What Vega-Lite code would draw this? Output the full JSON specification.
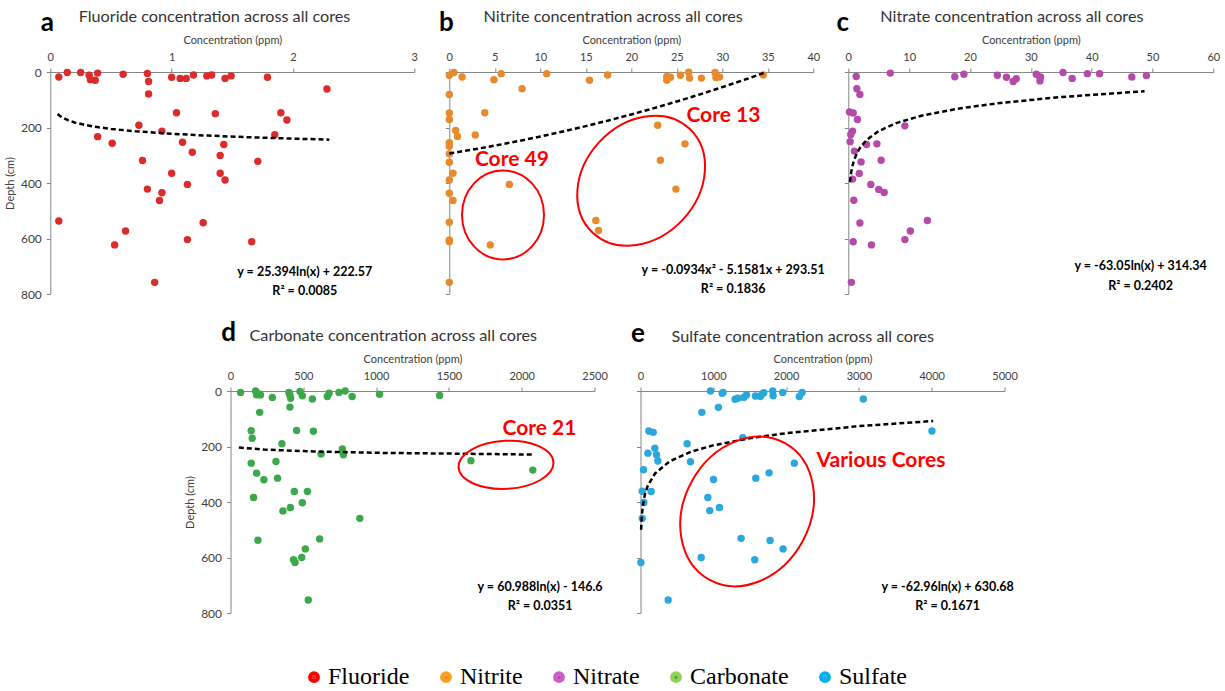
{
  "$schema": "https://vega.github.io/schema/vega-lite/v6.json",
  "background": "white",
  "padding": {"left": 4, "top": 9, "right": 5, "bottom": 5},
  "config": {
    "view": {"stroke": null},
    "axis": {
      "grid": false,
      "labelFont": "Lato",
      "titleFont": "Lato",
      "labelColor": "#404040",
      "titleColor": "#404040",
      "labelFontSize": 11,
      "titleFontSize": 11,
      "titleFontWeight": "normal",
      "domainColor": "#868686",
      "tickColor": "#868686",
      "tickSize": 4,
      "labelFlush": false
    },
    "legend": {
      "orient": "none",
      "legendX": 252,
      "legendY": 593,
      "direction": "horizontal",
      "columns": 5,
      "symbolType": "circle",
      "symbolSize": 16,
      "symbolStrokeWidth": 7.8,
      "labelFont": "Liberation Serif",
      "labelFontSize": 24,
      "labelColor": "#000000",
      "labelOffset": 2,
      "columnPadding": 18,
      "labelLimit": 300
    },
    "text": {"font": "Lato"}
  },
  "datasets": {
    "points": [
      {"ion":"Fluoride","conc":0.07,"depth":18},{"ion":"Fluoride","conc":0.14,"depth":2},{"ion":"Fluoride","conc":0.25,"depth":2},
      {"ion":"Fluoride","conc":0.32,"depth":12},{"ion":"Fluoride","conc":0.33,"depth":28},{"ion":"Fluoride","conc":0.37,"depth":30},
      {"ion":"Fluoride","conc":0.39,"depth":4},{"ion":"Fluoride","conc":0.6,"depth":8},{"ion":"Fluoride","conc":0.8,"depth":5},
      {"ion":"Fluoride","conc":0.81,"depth":34},{"ion":"Fluoride","conc":0.81,"depth":79},{"ion":"Fluoride","conc":1.0,"depth":19},
      {"ion":"Fluoride","conc":1.07,"depth":23},{"ion":"Fluoride","conc":1.12,"depth":23},{"ion":"Fluoride","conc":1.18,"depth":11},
      {"ion":"Fluoride","conc":1.29,"depth":14},{"ion":"Fluoride","conc":1.33,"depth":11},{"ion":"Fluoride","conc":1.44,"depth":23},
      {"ion":"Fluoride","conc":1.49,"depth":14},{"ion":"Fluoride","conc":1.79,"depth":19},{"ion":"Fluoride","conc":2.28,"depth":61},
      {"ion":"Fluoride","conc":1.04,"depth":147},{"ion":"Fluoride","conc":1.36,"depth":150},{"ion":"Fluoride","conc":1.9,"depth":147},
      {"ion":"Fluoride","conc":1.95,"depth":173},{"ion":"Fluoride","conc":0.73,"depth":192},{"ion":"Fluoride","conc":0.92,"depth":213},
      {"ion":"Fluoride","conc":1.85,"depth":226},{"ion":"Fluoride","conc":0.39,"depth":233},{"ion":"Fluoride","conc":0.51,"depth":257},
      {"ion":"Fluoride","conc":1.09,"depth":253},{"ion":"Fluoride","conc":1.43,"depth":261},{"ion":"Fluoride","conc":1.17,"depth":289},
      {"ion":"Fluoride","conc":1.4,"depth":301},{"ion":"Fluoride","conc":0.76,"depth":319},{"ion":"Fluoride","conc":1.71,"depth":322},
      {"ion":"Fluoride","conc":1.0,"depth":365},{"ion":"Fluoride","conc":1.4,"depth":365},{"ion":"Fluoride","conc":1.44,"depth":389},
      {"ion":"Fluoride","conc":1.13,"depth":405},{"ion":"Fluoride","conc":0.8,"depth":422},{"ion":"Fluoride","conc":0.92,"depth":435},
      {"ion":"Fluoride","conc":0.9,"depth":463},{"ion":"Fluoride","conc":0.07,"depth":537},{"ion":"Fluoride","conc":0.62,"depth":573},
      {"ion":"Fluoride","conc":1.26,"depth":543},{"ion":"Fluoride","conc":0.53,"depth":623},{"ion":"Fluoride","conc":1.13,"depth":604},
      {"ion":"Fluoride","conc":1.66,"depth":612},{"ion":"Fluoride","conc":0.86,"depth":758},

      {"ion":"Nitrite","conc":0,"depth":12},{"ion":"Nitrite","conc":0.5,"depth":2},{"ion":"Nitrite","conc":1.4,"depth":18},
      {"ion":"Nitrite","conc":4.9,"depth":28},{"ion":"Nitrite","conc":5.7,"depth":6},{"ion":"Nitrite","conc":8.0,"depth":60},
      {"ion":"Nitrite","conc":10.7,"depth":6},{"ion":"Nitrite","conc":15.4,"depth":30},{"ion":"Nitrite","conc":17.4,"depth":11},
      {"ion":"Nitrite","conc":23.9,"depth":16},{"ion":"Nitrite","conc":23.9,"depth":30},{"ion":"Nitrite","conc":24.3,"depth":19},
      {"ion":"Nitrite","conc":25.4,"depth":12},{"ion":"Nitrite","conc":26.3,"depth":1},{"ion":"Nitrite","conc":26.4,"depth":22},
      {"ion":"Nitrite","conc":27.7,"depth":22},{"ion":"Nitrite","conc":29.2,"depth":2},{"ion":"Nitrite","conc":29.3,"depth":20},
      {"ion":"Nitrite","conc":29.7,"depth":18},{"ion":"Nitrite","conc":34.5,"depth":11},{"ion":"Nitrite","conc":0,"depth":81},
      {"ion":"Nitrite","conc":0,"depth":148},{"ion":"Nitrite","conc":0,"depth":171},{"ion":"Nitrite","conc":0.7,"depth":211},
      {"ion":"Nitrite","conc":0.9,"depth":232},{"ion":"Nitrite","conc":3.9,"depth":147},{"ion":"Nitrite","conc":2.85,"depth":227},
      {"ion":"Nitrite","conc":0,"depth":255},{"ion":"Nitrite","conc":0,"depth":268},{"ion":"Nitrite","conc":0,"depth":295},
      {"ion":"Nitrite","conc":0,"depth":325},{"ion":"Nitrite","conc":0.4,"depth":365},{"ion":"Nitrite","conc":0,"depth":389},
      {"ion":"Nitrite","conc":0,"depth":437},{"ion":"Nitrite","conc":0.4,"depth":463},{"ion":"Nitrite","conc":0,"depth":541},
      {"ion":"Nitrite","conc":0,"depth":605},{"ion":"Nitrite","conc":0,"depth":612},{"ion":"Nitrite","conc":0,"depth":758},
      {"ion":"Nitrite","conc":6.6,"depth":405},{"ion":"Nitrite","conc":4.5,"depth":623},{"ion":"Nitrite","conc":22.9,"depth":192},
      {"ion":"Nitrite","conc":25.9,"depth":259},{"ion":"Nitrite","conc":23.2,"depth":318},{"ion":"Nitrite","conc":24.9,"depth":422},
      {"ion":"Nitrite","conc":16.1,"depth":535},{"ion":"Nitrite","conc":16.4,"depth":571},

      {"ion":"Nitrate","conc":1.3,"depth":16},{"ion":"Nitrate","conc":6.9,"depth":4},{"ion":"Nitrate","conc":17.5,"depth":17},
      {"ion":"Nitrate","conc":19.0,"depth":8},{"ion":"Nitrate","conc":24.5,"depth":12},{"ion":"Nitrate","conc":26.0,"depth":19},
      {"ion":"Nitrate","conc":27.1,"depth":34},{"ion":"Nitrate","conc":27.6,"depth":24},{"ion":"Nitrate","conc":30.9,"depth":8},
      {"ion":"Nitrate","conc":31.5,"depth":20},{"ion":"Nitrate","conc":31.5,"depth":32},{"ion":"Nitrate","conc":31.6,"depth":18},
      {"ion":"Nitrate","conc":35.3,"depth":2},{"ion":"Nitrate","conc":36.8,"depth":23},{"ion":"Nitrate","conc":39.3,"depth":6},
      {"ion":"Nitrate","conc":41.3,"depth":6},{"ion":"Nitrate","conc":46.6,"depth":18},{"ion":"Nitrate","conc":49.0,"depth":13},
      {"ion":"Nitrate","conc":1.4,"depth":60},{"ion":"Nitrate","conc":1.9,"depth":81},{"ion":"Nitrate","conc":0.2,"depth":144},
      {"ion":"Nitrate","conc":0.8,"depth":148},{"ion":"Nitrate","conc":1.5,"depth":171},{"ion":"Nitrate","conc":0.7,"depth":213},
      {"ion":"Nitrate","conc":0.4,"depth":225},{"ion":"Nitrate","conc":0.3,"depth":251},{"ion":"Nitrate","conc":9.3,"depth":194},
      {"ion":"Nitrate","conc":3.0,"depth":261},{"ion":"Nitrate","conc":4.7,"depth":259},{"ion":"Nitrate","conc":1.0,"depth":285},
      {"ion":"Nitrate","conc":2.1,"depth":324},{"ion":"Nitrate","conc":5.4,"depth":318},{"ion":"Nitrate","conc":1.8,"depth":366},
      {"ion":"Nitrate","conc":0.7,"depth":386},{"ion":"Nitrate","conc":3.7,"depth":405},{"ion":"Nitrate","conc":5.0,"depth":423},
      {"ion":"Nitrate","conc":5.9,"depth":434},{"ion":"Nitrate","conc":0.9,"depth":462},{"ion":"Nitrate","conc":1.9,"depth":544},
      {"ion":"Nitrate","conc":13.0,"depth":535},{"ion":"Nitrate","conc":10.2,"depth":573},{"ion":"Nitrate","conc":9.3,"depth":604},
      {"ion":"Nitrate","conc":0.8,"depth":612},{"ion":"Nitrate","conc":3.8,"depth":623},{"ion":"Nitrate","conc":0.5,"depth":758},

      {"ion":"Carbonate","conc":69,"depth":5},{"ion":"Carbonate","conc":172,"depth":0},{"ion":"Carbonate","conc":179,"depth":14},
      {"ion":"Carbonate","conc":195,"depth":11},{"ion":"Carbonate","conc":206,"depth":14},{"ion":"Carbonate","conc":287,"depth":23},
      {"ion":"Carbonate","conc":401,"depth":5},{"ion":"Carbonate","conc":408,"depth":14},{"ion":"Carbonate","conc":413,"depth":26},
      {"ion":"Carbonate","conc":477,"depth":2},{"ion":"Carbonate","conc":493,"depth":17},{"ion":"Carbonate","conc":562,"depth":29},
      {"ion":"Carbonate","conc":665,"depth":20},{"ion":"Carbonate","conc":677,"depth":8},{"ion":"Carbonate","conc":745,"depth":5},
      {"ion":"Carbonate","conc":787,"depth":0},{"ion":"Carbonate","conc":835,"depth":20},{"ion":"Carbonate","conc":1023,"depth":12},
      {"ion":"Carbonate","conc":1436,"depth":16},{"ion":"Carbonate","conc":408,"depth":58},{"ion":"Carbonate","conc":200,"depth":77},
      {"ion":"Carbonate","conc":142,"depth":143},{"ion":"Carbonate","conc":149,"depth":170},{"ion":"Carbonate","conc":454,"depth":142},
      {"ion":"Carbonate","conc":569,"depth":145},{"ion":"Carbonate","conc":353,"depth":190},{"ion":"Carbonate","conc":768,"depth":209},
      {"ion":"Carbonate","conc":772,"depth":220},{"ion":"Carbonate","conc":775,"depth":230},{"ion":"Carbonate","conc":622,"depth":227},
      {"ion":"Carbonate","conc":142,"depth":260},{"ion":"Carbonate","conc":312,"depth":254},{"ion":"Carbonate","conc":179,"depth":296},
      {"ion":"Carbonate","conc":229,"depth":320},{"ion":"Carbonate","conc":323,"depth":314},{"ion":"Carbonate","conc":158,"depth":384},
      {"ion":"Carbonate","conc":438,"depth":362},{"ion":"Carbonate","conc":528,"depth":362},{"ion":"Carbonate","conc":493,"depth":403},
      {"ion":"Carbonate","conc":411,"depth":420},{"ion":"Carbonate","conc":360,"depth":432},{"ion":"Carbonate","conc":888,"depth":459},
      {"ion":"Carbonate","conc":188,"depth":538},{"ion":"Carbonate","conc":612,"depth":533},{"ion":"Carbonate","conc":514,"depth":569},
      {"ion":"Carbonate","conc":433,"depth":608},{"ion":"Carbonate","conc":443,"depth":618},{"ion":"Carbonate","conc":489,"depth":600},
      {"ion":"Carbonate","conc":534,"depth":753},{"ion":"Carbonate","conc":1651,"depth":251},{"ion":"Carbonate","conc":2076,"depth":285},

      {"ion":"Sulfate","conc":961,"depth":0},{"ion":"Sulfate","conc":1121,"depth":8},{"ion":"Sulfate","conc":1134,"depth":5},
      {"ion":"Sulfate","conc":1299,"depth":30},{"ion":"Sulfate","conc":1336,"depth":26},{"ion":"Sulfate","conc":1418,"depth":23},
      {"ion":"Sulfate","conc":1455,"depth":14},{"ion":"Sulfate","conc":1578,"depth":18},{"ion":"Sulfate","conc":1647,"depth":20},
      {"ion":"Sulfate","conc":1670,"depth":11},{"ion":"Sulfate","conc":1693,"depth":6},{"ion":"Sulfate","conc":1816,"depth":0},
      {"ion":"Sulfate","conc":1821,"depth":17},{"ion":"Sulfate","conc":1953,"depth":5},{"ion":"Sulfate","conc":2182,"depth":20},
      {"ion":"Sulfate","conc":2219,"depth":5},{"ion":"Sulfate","conc":3060,"depth":29},{"ion":"Sulfate","conc":842,"depth":77},
      {"ion":"Sulfate","conc":1070,"depth":59},{"ion":"Sulfate","conc":4003,"depth":144},{"ion":"Sulfate","conc":114,"depth":144},
      {"ion":"Sulfate","conc":174,"depth":149},{"ion":"Sulfate","conc":1404,"depth":168},{"ion":"Sulfate","conc":197,"depth":206},
      {"ion":"Sulfate","conc":220,"depth":230},{"ion":"Sulfate","conc":238,"depth":252},{"ion":"Sulfate","conc":101,"depth":224},
      {"ion":"Sulfate","conc":640,"depth":190},{"ion":"Sulfate","conc":686,"depth":255},{"ion":"Sulfate","conc":41,"depth":284},
      {"ion":"Sulfate","conc":2113,"depth":260},{"ion":"Sulfate","conc":1766,"depth":295},{"ion":"Sulfate","conc":1583,"depth":314},
      {"ion":"Sulfate","conc":1002,"depth":319},{"ion":"Sulfate","conc":23,"depth":361},{"ion":"Sulfate","conc":146,"depth":362},
      {"ion":"Sulfate","conc":46,"depth":402},{"ion":"Sulfate","conc":924,"depth":384},{"ion":"Sulfate","conc":951,"depth":431},
      {"ion":"Sulfate","conc":1084,"depth":420},{"ion":"Sulfate","conc":23,"depth":459},{"ion":"Sulfate","conc":1381,"depth":531},
      {"ion":"Sulfate","conc":1780,"depth":539},{"ion":"Sulfate","conc":1958,"depth":569},{"ion":"Sulfate","conc":833,"depth":600},
      {"ion":"Sulfate","conc":1569,"depth":608},{"ion":"Sulfate","conc":5,"depth":618},{"ion":"Sulfate","conc":380,"depth":753}
    ],
    "trends": [
      {"ion":"Fluoride","conc":0.06,"depth":151.1},{"ion":"Fluoride","conc":0.08,"depth":158.4},{"ion":"Fluoride","conc":0.1,"depth":164.1},
      {"ion":"Fluoride","conc":0.15,"depth":174.4},{"ion":"Fluoride","conc":0.2,"depth":181.7},{"ion":"Fluoride","conc":0.3,"depth":192.0},
      {"ion":"Fluoride","conc":0.4,"depth":199.3},{"ion":"Fluoride","conc":0.5,"depth":205.0},{"ion":"Fluoride","conc":0.7,"depth":213.5},
      {"ion":"Fluoride","conc":1.0,"depth":222.6},{"ion":"Fluoride","conc":1.3,"depth":229.2},{"ion":"Fluoride","conc":1.6,"depth":234.5},
      {"ion":"Fluoride","conc":2.0,"depth":240.2},{"ion":"Fluoride","conc":2.3,"depth":243.7},

      {"ion":"Nitrite","conc":0,"depth":293.5},{"ion":"Nitrite","conc":2.5,"depth":280.0},{"ion":"Nitrite","conc":5,"depth":265.4},
      {"ion":"Nitrite","conc":7.5,"depth":249.6},{"ion":"Nitrite","conc":10,"depth":232.6},{"ion":"Nitrite","conc":12.5,"depth":214.4},
      {"ion":"Nitrite","conc":15,"depth":195.1},{"ion":"Nitrite","conc":17.5,"depth":174.6},{"ion":"Nitrite","conc":20,"depth":153.0},
      {"ion":"Nitrite","conc":22.5,"depth":130.2},{"ion":"Nitrite","conc":25,"depth":106.2},{"ion":"Nitrite","conc":27.5,"depth":81.0},
      {"ion":"Nitrite","conc":30,"depth":54.7},{"ion":"Nitrite","conc":32.5,"depth":27.2},{"ion":"Nitrite","conc":34.6,"depth":3.2},

      {"ion":"Nitrate","conc":0.27,"depth":396.9},{"ion":"Nitrate","conc":0.35,"depth":380.5},{"ion":"Nitrate","conc":0.5,"depth":358.0},
      {"ion":"Nitrate","conc":0.75,"depth":332.5},{"ion":"Nitrate","conc":1,"depth":314.3},{"ion":"Nitrate","conc":1.5,"depth":288.8},
      {"ion":"Nitrate","conc":2,"depth":270.6},{"ion":"Nitrate","conc":3,"depth":245.1},{"ion":"Nitrate","conc":5,"depth":212.9},
      {"ion":"Nitrate","conc":8,"depth":183.2},{"ion":"Nitrate","conc":12,"depth":157.7},{"ion":"Nitrate","conc":18,"depth":132.1},
      {"ion":"Nitrate","conc":25,"depth":111.4},{"ion":"Nitrate","conc":35,"depth":90.2},{"ion":"Nitrate","conc":48.7,"depth":69.3},

      {"ion":"Carbonate","conc":57,"depth":204},{"ion":"Carbonate","conc":229,"depth":211},{"ion":"Carbonate","conc":573,"depth":218},
      {"ion":"Carbonate","conc":1032,"depth":223},{"ion":"Carbonate","conc":1491,"depth":225.5},{"ion":"Carbonate","conc":2076,"depth":229},

      {"ion":"Sulfate","conc":8,"depth":499.8},{"ion":"Sulfate","conc":15,"depth":460.2},{"ion":"Sulfate","conc":30,"depth":416.5},
      {"ion":"Sulfate","conc":60,"depth":372.9},{"ion":"Sulfate","conc":100,"depth":340.7},{"ion":"Sulfate","conc":200,"depth":297.1},
      {"ion":"Sulfate","conc":400,"depth":253.5},{"ion":"Sulfate","conc":700,"depth":218.2},{"ion":"Sulfate","conc":1000,"depth":195.8},
      {"ion":"Sulfate","conc":1500,"depth":170.2},{"ion":"Sulfate","conc":2000,"depth":152.1},{"ion":"Sulfate","conc":3000,"depth":126.6},
      {"ion":"Sulfate","conc":4020,"depth":108.2}
    ],
    "notes": [
      {"ion":"Fluoride","kind":"fit","conc":2.097,"depth":719,"label":"y = 25.394ln(x) + 222.57"},
      {"ion":"Fluoride","kind":"fit","conc":2.097,"depth":788,"label":"R² = 0.0085"},
      {"ion":"Nitrite","kind":"fit","conc":31.2,"depth":713,"label":"y = -0.0934x² - 5.1581x + 293.51"},
      {"ion":"Nitrite","kind":"fit","conc":31.2,"depth":782,"label":"R² = 0.1836"},
      {"ion":"Nitrate","kind":"fit","conc":48.05,"depth":698,"label":"y = -63.05ln(x) + 314.34"},
      {"ion":"Nitrate","kind":"fit","conc":48.05,"depth":770,"label":"R² = 0.2402"},
      {"ion":"Carbonate","kind":"fit","conc":2126,"depth":708,"label":"y = 60.988ln(x) - 146.6"},
      {"ion":"Carbonate","kind":"fit","conc":2126,"depth":776,"label":"R² = 0.0351"},
      {"ion":"Sulfate","kind":"fit","conc":4218,"depth":708,"label":"y = -62.96ln(x) + 630.68"},
      {"ion":"Sulfate","kind":"fit","conc":4218,"depth":776,"label":"R² = 0.1671"},
      {"ion":"Nitrite","kind":"core","conc":6.88,"depth":316,"label":"Core 49"},
      {"ion":"Nitrite","kind":"core","conc":30.12,"depth":160,"label":"Core 13"},
      {"ion":"Carbonate","kind":"core","conc":2122,"depth":138,"label":"Core 21"},
      {"ion":"Sulfate","kind":"core","conc":3303,"depth":254,"label":"Various Cores"}
    ],
    "rings": [
      {"ring":"core49","conc":5.9,"depth":515},
      {"ring":"core13","conc":21.08,"depth":392},
      {"ring":"core21","conc":1892,"depth":266},
      {"ring":"various","conc":1464,"depth":434}
    ]
  },
  "vconcat": [
    {
      "hconcat": [
        {
          "width": 364, "height": 222,
          "layer": [
            {
              "data": {"name": "points"},
              "transform": [{"filter": "datum.ion === 'Fluoride'"}],
              "mark": {"type": "circle", "size": 55, "opacity": 1},
              "encoding": {
                "x": {"field": "conc", "type": "quantitative", "scale": {"domain": [0, 3], "nice": false},
                      "axis": {"orient": "top", "values": [0, 1, 2, 3], "format": "d", "title": "Concentration (ppm)", "labelPadding": 6, "titlePadding": 6}},
                "y": {"field": "depth", "type": "quantitative", "scale": {"domain": [0, 800], "nice": false, "reverse": true},
                      "axis": {"values": [0, 100, 200, 300, 400, 500, 600, 700, 800], "format": "d", "title": "Depth (cm)", "labelFontSize": 12, "labelPadding": 5, "titlePadding": 5}},
                "color": {"field": "ion", "type": "nominal",
                          "scale": {"domain": ["Fluoride", "Nitrite", "Nitrate", "Carbonate", "Sulfate"], "range": ["#dd2a2a", "#e8892b", "#b44baa", "#3ca84b", "#2aa7db"]},
                          "legend": {"title": null}},
                "stroke": {"field": "ion", "type": "nominal",
                           "scale": {"domain": ["Fluoride", "Nitrite", "Nitrate", "Carbonate", "Sulfate"], "range": ["#ff0000", "#ff9e1e", "#cc5ccc", "#92d050", "#00b0f0"]},
                           "legend": {"title": null}},
                "strokeWidth": {"value": 0}
              }
            },
            {
              "data": {"name": "trends"},
              "transform": [{"filter": "datum.ion === 'Fluoride'"}],
              "mark": {"type": "line", "color": "#000000", "strokeWidth": 2.5, "strokeDash": [5, 3]},
              "encoding": {"x": {"field": "conc", "type": "quantitative"}, "y": {"field": "depth", "type": "quantitative"}}
            },
            {
              "data": {"name": "notes"},
              "transform": [{"filter": "datum.ion === 'Fluoride' && datum.kind === 'fit'"}],
              "mark": {"type": "text", "fontWeight": "bold", "fontSize": 12.5, "color": "#000000", "baseline": "middle"},
              "encoding": {"x": {"field": "conc", "type": "quantitative"}, "y": {"field": "depth", "type": "quantitative"}, "text": {"field": "label"}}
            },
            {
              "data": {"values": [{}]},
              "mark": {"type": "text", "text": "a", "fontWeight": "bold", "fontSize": 26, "align": "center", "baseline": "alphabetic", "color": "#000000"},
              "encoding": {"x": {"datum": -0.025}, "y": {"datum": -148}}
            },
            {
              "data": {"values": [{}]},
              "mark": {"type": "text", "text": "Fluoride concentration across all cores", "fontSize": 16.2, "align": "left", "baseline": "alphabetic", "color": "#333333"},
              "encoding": {"x": {"datum": 0.234}, "y": {"datum": -180}}
            }
          ]
        },
        {
          "width": 364, "height": 222,
          "layer": [
            {
              "data": {"name": "points"},
              "transform": [{"filter": "datum.ion === 'Nitrite'"}],
              "mark": {"type": "circle", "size": 55, "opacity": 1},
              "encoding": {
                "x": {"field": "conc", "type": "quantitative", "scale": {"domain": [0, 40], "nice": false},
                      "axis": {"orient": "top", "values": [0, 5, 10, 15, 20, 25, 30, 35, 40], "format": "d", "title": "Concentration (ppm)", "labelPadding": 6, "titlePadding": 6}},
                "y": {"field": "depth", "type": "quantitative", "scale": {"domain": [0, 800], "nice": false, "reverse": true},
                      "axis": {"values": [0, 100, 200, 300, 400, 500, 600, 700, 800], "labels": false, "title": null}},
                "color": {"field": "ion", "type": "nominal",
                          "scale": {"domain": ["Fluoride", "Nitrite", "Nitrate", "Carbonate", "Sulfate"], "range": ["#dd2a2a", "#e8892b", "#b44baa", "#3ca84b", "#2aa7db"]}},
                "stroke": {"field": "ion", "type": "nominal",
                           "scale": {"domain": ["Fluoride", "Nitrite", "Nitrate", "Carbonate", "Sulfate"], "range": ["#ff0000", "#ff9e1e", "#cc5ccc", "#92d050", "#00b0f0"]}},
                "strokeWidth": {"value": 0}
              }
            },
            {
              "data": {"name": "trends"},
              "transform": [{"filter": "datum.ion === 'Nitrite'"}],
              "mark": {"type": "line", "color": "#000000", "strokeWidth": 2.5, "strokeDash": [5, 3]},
              "encoding": {"x": {"field": "conc", "type": "quantitative"}, "y": {"field": "depth", "type": "quantitative"}}
            },
            {
              "data": {"name": "rings"},
              "transform": [{"filter": "datum.ring === 'core49'"}],
              "mark": {"type": "point", "shape": "M -41 0 A 41 44.5 0 1 0 41 0 A 41 44.5 0 1 0 -41 0 Z", "size": 4, "filled": false, "color": "#ff0000", "strokeWidth": 2, "opacity": 1},
              "encoding": {"x": {"field": "conc", "type": "quantitative"}, "y": {"field": "depth", "type": "quantitative"}}
            },
            {
              "data": {"name": "rings"},
              "transform": [{"filter": "datum.ring === 'core13'"}],
              "mark": {"type": "point", "shape": "M -71 0 A 71 57 0 1 0 71 0 A 71 57 0 1 0 -71 0 Z", "size": 4, "angle": -47, "filled": false, "color": "#ff0000", "strokeWidth": 2, "opacity": 1},
              "encoding": {"x": {"field": "conc", "type": "quantitative"}, "y": {"field": "depth", "type": "quantitative"}}
            },
            {
              "data": {"name": "notes"},
              "transform": [{"filter": "datum.ion === 'Nitrite' && datum.kind === 'fit'"}],
              "mark": {"type": "text", "fontWeight": "bold", "fontSize": 12.5, "color": "#000000", "baseline": "middle"},
              "encoding": {"x": {"field": "conc", "type": "quantitative"}, "y": {"field": "depth", "type": "quantitative"}, "text": {"field": "label"}}
            },
            {
              "data": {"name": "notes"},
              "transform": [{"filter": "datum.ion === 'Nitrite' && datum.kind === 'core'"}],
              "mark": {"type": "text", "fontWeight": "bold", "fontSize": 21, "color": "#ff0000", "baseline": "middle"},
              "encoding": {"x": {"field": "conc", "type": "quantitative"}, "y": {"field": "depth", "type": "quantitative"}, "text": {"field": "label"}}
            },
            {
              "data": {"values": [{}]},
              "mark": {"type": "text", "text": "b", "fontWeight": "bold", "fontSize": 26, "align": "center", "baseline": "alphabetic", "color": "#000000"},
              "encoding": {"x": {"datum": -0.33}, "y": {"datum": -148}}
            },
            {
              "data": {"values": [{}]},
              "mark": {"type": "text", "text": "Nitrite concentration across all cores", "fontSize": 16.2, "align": "left", "baseline": "alphabetic", "color": "#333333"},
              "encoding": {"x": {"datum": 3.77}, "y": {"datum": -180}}
            }
          ]
        },
        {
          "width": 365, "height": 222,
          "layer": [
            {
              "data": {"name": "points"},
              "transform": [{"filter": "datum.ion === 'Nitrate'"}],
              "mark": {"type": "circle", "size": 55, "opacity": 1},
              "encoding": {
                "x": {"field": "conc", "type": "quantitative", "scale": {"domain": [0, 60], "nice": false},
                      "axis": {"orient": "top", "values": [0, 10, 20, 30, 40, 50, 60], "format": "d", "title": "Concentration (ppm)", "labelPadding": 6, "titlePadding": 6}},
                "y": {"field": "depth", "type": "quantitative", "scale": {"domain": [0, 800], "nice": false, "reverse": true},
                      "axis": {"values": [0, 100, 200, 300, 400, 500, 600, 700, 800], "labels": false, "title": null}},
                "color": {"field": "ion", "type": "nominal",
                          "scale": {"domain": ["Fluoride", "Nitrite", "Nitrate", "Carbonate", "Sulfate"], "range": ["#dd2a2a", "#e8892b", "#b44baa", "#3ca84b", "#2aa7db"]}},
                "stroke": {"field": "ion", "type": "nominal",
                           "scale": {"domain": ["Fluoride", "Nitrite", "Nitrate", "Carbonate", "Sulfate"], "range": ["#ff0000", "#ff9e1e", "#cc5ccc", "#92d050", "#00b0f0"]}},
                "strokeWidth": {"value": 0}
              }
            },
            {
              "data": {"name": "trends"},
              "transform": [{"filter": "datum.ion === 'Nitrate'"}],
              "mark": {"type": "line", "color": "#000000", "strokeWidth": 2.5, "strokeDash": [5, 3]},
              "encoding": {"x": {"field": "conc", "type": "quantitative"}, "y": {"field": "depth", "type": "quantitative"}}
            },
            {
              "data": {"name": "notes"},
              "transform": [{"filter": "datum.ion === 'Nitrate' && datum.kind === 'fit'"}],
              "mark": {"type": "text", "fontWeight": "bold", "fontSize": 12.5, "color": "#000000", "baseline": "middle"},
              "encoding": {"x": {"field": "conc", "type": "quantitative"}, "y": {"field": "depth", "type": "quantitative"}, "text": {"field": "label"}}
            },
            {
              "data": {"values": [{}]},
              "mark": {"type": "text", "text": "c", "fontWeight": "bold", "fontSize": 26, "align": "center", "baseline": "alphabetic", "color": "#000000"},
              "encoding": {"x": {"datum": -0.9}, "y": {"datum": -148}}
            },
            {
              "data": {"values": [{}]},
              "mark": {"type": "text", "text": "Nitrate concentration across all cores", "fontSize": 16.2, "align": "left", "baseline": "alphabetic", "color": "#333333"},
              "encoding": {"x": {"datum": 5.26}, "y": {"datum": -180}}
            }
          ]
        }
      ],
      "spacing": 35,
      "bounds": "flush"
    },
    {
      "hconcat": [
        {
          "width": 364, "height": 222,
          "layer": [
            {
              "data": {"name": "points"},
              "transform": [{"filter": "datum.ion === 'Carbonate'"}],
              "mark": {"type": "circle", "size": 55, "opacity": 1},
              "encoding": {
                "x": {"field": "conc", "type": "quantitative", "scale": {"domain": [0, 2500], "nice": false},
                      "axis": {"orient": "top", "values": [0, 500, 1000, 1500, 2000, 2500], "format": "d", "title": "Concentration (ppm)", "labelPadding": 6, "titlePadding": 6}},
                "y": {"field": "depth", "type": "quantitative", "scale": {"domain": [0, 800], "nice": false, "reverse": true},
                      "axis": {"values": [0, 100, 200, 300, 400, 500, 600, 700, 800], "format": "d", "title": "Depth (cm)", "labelFontSize": 12, "labelPadding": 5, "titlePadding": 5}},
                "color": {"field": "ion", "type": "nominal",
                          "scale": {"domain": ["Fluoride", "Nitrite", "Nitrate", "Carbonate", "Sulfate"], "range": ["#dd2a2a", "#e8892b", "#b44baa", "#3ca84b", "#2aa7db"]}},
                "stroke": {"field": "ion", "type": "nominal",
                           "scale": {"domain": ["Fluoride", "Nitrite", "Nitrate", "Carbonate", "Sulfate"], "range": ["#ff0000", "#ff9e1e", "#cc5ccc", "#92d050", "#00b0f0"]}},
                "strokeWidth": {"value": 0}
              }
            },
            {
              "data": {"name": "trends"},
              "transform": [{"filter": "datum.ion === 'Carbonate'"}],
              "mark": {"type": "line", "color": "#000000", "strokeWidth": 2.5, "strokeDash": [5, 3]},
              "encoding": {"x": {"field": "conc", "type": "quantitative"}, "y": {"field": "depth", "type": "quantitative"}}
            },
            {
              "data": {"name": "rings"},
              "transform": [{"filter": "datum.ring === 'core21'"}],
              "mark": {"type": "point", "shape": "M -47.5 0 A 47.5 24 0 1 0 47.5 0 A 47.5 24 0 1 0 -47.5 0 Z", "size": 4, "angle": -3, "filled": false, "color": "#ff0000", "strokeWidth": 2, "opacity": 1},
              "encoding": {"x": {"field": "conc", "type": "quantitative"}, "y": {"field": "depth", "type": "quantitative"}}
            },
            {
              "data": {"name": "notes"},
              "transform": [{"filter": "datum.ion === 'Carbonate' && datum.kind === 'fit'"}],
              "mark": {"type": "text", "fontWeight": "bold", "fontSize": 12.5, "color": "#000000", "baseline": "middle"},
              "encoding": {"x": {"field": "conc", "type": "quantitative"}, "y": {"field": "depth", "type": "quantitative"}, "text": {"field": "label"}}
            },
            {
              "data": {"name": "notes"},
              "transform": [{"filter": "datum.ion === 'Carbonate' && datum.kind === 'core'"}],
              "mark": {"type": "text", "fontWeight": "bold", "fontSize": 21, "color": "#ff0000", "baseline": "middle"},
              "encoding": {"x": {"field": "conc", "type": "quantitative"}, "y": {"field": "depth", "type": "quantitative"}, "text": {"field": "label"}}
            },
            {
              "data": {"values": [{}]},
              "mark": {"type": "text", "text": "d", "fontWeight": "bold", "fontSize": 26, "align": "center", "baseline": "alphabetic", "color": "#000000"},
              "encoding": {"x": {"datum": -13.7}, "y": {"datum": -181}}
            },
            {
              "data": {"values": [{}]},
              "mark": {"type": "text", "text": "Carbonate concentration across all cores", "fontSize": 16.2, "align": "left", "baseline": "alphabetic", "color": "#333333"},
              "encoding": {"x": {"datum": 130.5}, "y": {"datum": -181}}
            }
          ]
        },
        {
          "width": 364, "height": 222,
          "layer": [
            {
              "data": {"name": "points"},
              "transform": [{"filter": "datum.ion === 'Sulfate'"}],
              "mark": {"type": "circle", "size": 55, "opacity": 1},
              "encoding": {
                "x": {"field": "conc", "type": "quantitative", "scale": {"domain": [0, 5000], "nice": false},
                      "axis": {"orient": "top", "values": [0, 1000, 2000, 3000, 4000, 5000], "format": "d", "title": "Concentration (ppm)", "labelPadding": 6, "titlePadding": 6}},
                "y": {"field": "depth", "type": "quantitative", "scale": {"domain": [0, 800], "nice": false, "reverse": true},
                      "axis": {"values": [0, 100, 200, 300, 400, 500, 600, 700, 800], "labels": false, "title": null}},
                "color": {"field": "ion", "type": "nominal",
                          "scale": {"domain": ["Fluoride", "Nitrite", "Nitrate", "Carbonate", "Sulfate"], "range": ["#dd2a2a", "#e8892b", "#b44baa", "#3ca84b", "#2aa7db"]}},
                "stroke": {"field": "ion", "type": "nominal",
                           "scale": {"domain": ["Fluoride", "Nitrite", "Nitrate", "Carbonate", "Sulfate"], "range": ["#ff0000", "#ff9e1e", "#cc5ccc", "#92d050", "#00b0f0"]}},
                "strokeWidth": {"value": 0}
              }
            },
            {
              "data": {"name": "trends"},
              "transform": [{"filter": "datum.ion === 'Sulfate'"}],
              "mark": {"type": "line", "color": "#000000", "strokeWidth": 2.5, "strokeDash": [5, 3]},
              "encoding": {"x": {"field": "conc", "type": "quantitative"}, "y": {"field": "depth", "type": "quantitative"}}
            },
            {
              "data": {"name": "rings"},
              "transform": [{"filter": "datum.ring === 'various'"}],
              "mark": {"type": "point", "shape": "M -78 0 A 78 63 0 1 0 78 0 A 78 63 0 1 0 -78 0 Z", "size": 4, "angle": -61, "filled": false, "color": "#ff0000", "strokeWidth": 2, "opacity": 1},
              "encoding": {"x": {"field": "conc", "type": "quantitative"}, "y": {"field": "depth", "type": "quantitative"}}
            },
            {
              "data": {"name": "notes"},
              "transform": [{"filter": "datum.ion === 'Sulfate' && datum.kind === 'fit'"}],
              "mark": {"type": "text", "fontWeight": "bold", "fontSize": 12.5, "color": "#000000", "baseline": "middle"},
              "encoding": {"x": {"field": "conc", "type": "quantitative"}, "y": {"field": "depth", "type": "quantitative"}, "text": {"field": "label"}}
            },
            {
              "data": {"name": "notes"},
              "transform": [{"filter": "datum.ion === 'Sulfate' && datum.kind === 'core'"}],
              "mark": {"type": "text", "fontWeight": "bold", "fontSize": 21, "color": "#ff0000", "baseline": "middle"},
              "encoding": {"x": {"field": "conc", "type": "quantitative"}, "y": {"field": "depth", "type": "quantitative"}, "text": {"field": "label"}}
            },
            {
              "data": {"values": [{}]},
              "mark": {"type": "text", "text": "e", "fontWeight": "bold", "fontSize": 26, "align": "center", "baseline": "alphabetic", "color": "#000000"},
              "encoding": {"x": {"datum": -34}, "y": {"datum": -178}}
            },
            {
              "data": {"values": [{}]},
              "mark": {"type": "text", "text": "Sulfate concentration across all cores", "fontSize": 16.2, "align": "left", "baseline": "alphabetic", "color": "#333333"},
              "encoding": {"x": {"datum": 426}, "y": {"datum": -178}}
            },
            {
              "data": {"values": [{}]},
              "mark": {"type": "text", "text": "\u00a0", "fontSize": 11, "align": "right", "baseline": "middle"},
              "encoding": {"x": {"datum": 5480}, "y": {"datum": 0}}
            }
          ]
        }
      ],
      "spacing": 46,
      "bounds": "flush"
    }
  ],
  "spacing": 19,
  "center": true,
  "resolve": {"scale": {"color": "shared", "stroke": "shared"}}
}
